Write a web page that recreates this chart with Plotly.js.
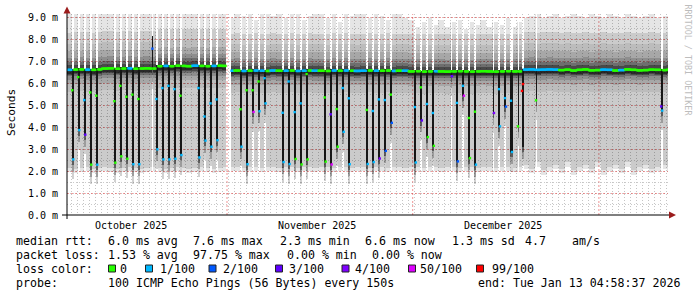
<!DOCTYPE html>
<html><head><meta charset="utf-8">
<script src="https://cdn.plot.ly/plotly-3.0.1.min.js"></script>
<style>html,body{margin:0;padding:0;background:#fff;}#chart{width:697px;height:297px;}</style>
</head><body><div id="chart"></div>
<script>
// ---------------- DATA ----------------
const firstDay = '2025-10-05 00:00:00';
const rangeStart = '2025-10-05 04:58:37';
const rangeEnd = '2026-01-13 04:58:37';

// per-day baseline median RTT (ms), Oct 5 .. Jan 13
const baseMed = [
 6.63,6.64,6.65,6.64,6.63,6.65,
 6.69,6.70,6.68,6.69,6.70,6.68,6.69,6.70,6.69,
 6.80,6.81,6.80,6.82,6.81,6.80,6.82,6.81,6.80,6.81,6.82,6.81,
 6.59,6.60,6.58,6.59,6.60,6.59,6.58,6.60,6.59,6.59,6.60,6.58,6.59,6.60,6.59,6.59,6.58,6.60,6.59,6.60,6.59,6.58,6.59,6.60,6.59,6.59,6.60,6.58,6.59,6.59,
 6.56,6.57,6.55,6.56,6.57,6.56,6.55,6.56,6.57,6.56,6.55,6.56,6.57,6.56,6.55,6.56,6.57,6.56,6.56,
 6.64,6.65,6.63,6.64,6.65,6.64,
 6.62,6.64,6.60,6.63,6.65,6.61,
 6.62,6.64,6.63,6.60,6.62,6.65,6.63,6.61,6.62,6.64,6.63,6.62,6.64
];
// per-day baseline loss class (index into lossLabels)
const baseLoss = [
 1,0,0,1,0,0,0,0,0,0,1,0,0,0,0,0,1,0,0,0,0,1,0,0,1,0,0,
 1,0,1,0,1,1,0,1,0,1,0,1,1,0,1,0,0,1,0,1,0,1,1,0,1,0,0,1,0,1,
 0,0,0,0,1,0,0,0,0,0,0,0,0,0,0,0,0,0,0,
 1,1,1,1,1,1,0,0,0,0,0,0,
 0,1,1,0,1,0,0,0,0,0,0,0,0
];
// per-day upper / lower extent of the smoke (ms)
const smokeTop = [
 9.25,9.25,9.2,9.25,9.25,9.2,9.25,9.25,9.25,9.2,9.25,9.25,9.25,9.2,9.25,9.25,9.25,9.2,9.25,9.25,9.25,9.2,9.25,9.25,9.25,9.2,9.25,
 9.0,9.2,9.1,9.2,8.9,9.2,9.2,9.1,9.2,9.0,9.2,9.2,8.9,9.1,9.2,9.2,9.0,9.2,8.8,9.2,9.1,9.2,9.2,9.0,9.2,9.1,8.9,9.2,9.2,9.0,
 8.9,8.6,8.8,9.0,8.7,8.9,8.6,8.8,8.9,8.5,8.8,8.7,8.9,8.6,8.8,8.7,9.0,8.6,8.8,
 9.0,9.1,9.2,9.0,9.1,9.2,9.0,9.1,9.2,9.1,9.0,9.2,
 9.1,9.0,9.2,9.1,9.0,9.2,9.1,9.0,9.1,9.2,9.0,9.1,9.1
];
const smokeBottom = [
 1.95,1.9,1.95,2.0,1.9,1.95,2.0,1.95,1.9,1.95,2.0,1.95,1.9,1.95,2.0,1.95,1.9,1.95,2.0,1.95,1.9,1.95,2.0,1.95,1.9,1.95,2.0,
 2.0,2.0,1.95,2.0,2.0,1.95,2.0,2.0,1.95,2.0,2.0,1.95,2.0,2.0,1.95,2.0,2.0,1.95,2.0,2.0,1.95,2.0,2.0,1.95,2.0,2.0,1.95,2.0,2.0,1.95,
 2.0,2.0,1.95,2.0,2.0,1.95,2.0,2.0,1.95,2.0,2.0,1.95,2.0,2.0,1.95,2.0,2.0,1.95,2.0,
 2.1,1.9,2.2,1.85,2.0,2.1,1.9,2.2,1.85,2.0,2.1,1.9,
 2.2,1.85,2.0,2.1,1.9,2.2,1.85,2.0,2.1,1.9,2.0,2.1,2.0
];

// individual excursions of the median (dips, spike, loss event)
const evTime = [
 '2025-10-06 05:00','2025-10-07 05:00','2025-10-08 05:00','2025-10-09 05:00','2025-10-10 05:00',
 '2025-10-13 05:00','2025-10-14 05:00','2025-10-15 05:00','2025-10-16 05:00','2025-10-17 05:00',
 '2025-10-19 10:00',
 '2025-10-20 05:00','2025-10-21 05:00','2025-10-22 05:00','2025-10-23 05:00','2025-10-24 05:00',
 '2025-10-27 05:00','2025-10-28 05:00','2025-10-29 05:00','2025-10-30 05:00',
 '2025-11-03 05:00','2025-11-04 05:00','2025-11-05 05:00','2025-11-06 05:00','2025-11-07 05:00',
 '2025-11-10 05:00','2025-11-11 05:00','2025-11-12 05:00','2025-11-13 05:00','2025-11-14 05:00',
 '2025-11-17 05:00','2025-11-18 05:00','2025-11-19 05:00','2025-11-20 05:00','2025-11-21 05:00',
 '2025-11-24 05:00','2025-11-25 05:00','2025-11-26 05:00','2025-11-27 05:00','2025-11-28 05:00',
 '2025-12-02 05:00','2025-12-03 05:00','2025-12-04 05:00','2025-12-05 05:00',
 '2025-12-08 05:00','2025-12-09 05:00','2025-12-10 05:00','2025-12-11 05:00','2025-12-12 05:00',
 '2025-12-15 05:00','2025-12-16 05:00','2025-12-17 05:00','2025-12-18 05:00','2025-12-19 05:00',
 '2025-12-20 02:00','2025-12-22 05:00','2026-01-12 05:00'
];
const evMed = [
 2.54,3.88,3.67,2.30,2.30, 2.39,2.68,2.57,2.32,2.32, 7.60,
 3.00,2.54,2.54,2.57,2.74, 2.63,3.40,3.12,3.42,
 3.12,2.32,4.71,4.74,5.10, 2.42,2.33,2.56,2.31,2.54,
 2.44,2.31,3.12,3.80,2.32, 2.33,2.42,2.58,2.93,4.21,
 2.40,4.32,3.56,3.16, 6.34,2.45,5.45,2.60,2.30,
 4.66,4.05,4.95,2.88,4.05, 5.98,5.24,4.77
];
const evLoss = [
 1,1,3,0,1, 0,0,0,1,1, 2,
 1,1,1,1,1, 1,1,1,1,
 1,1,5,1,1, 1,1,0,0,0,
 0,5,0,1,1, 1,1,4,2,2,
 1,3,0,0, 3,2,5,0,1,
 4,1,2,1,0, 6,0,1
];
const evMid = [
 5.70,6.30,5.25,5.60,5.45, 5.20,5.90,5.40,5.50,5.30, null,
 5.30,5.80,5.90,5.75,5.45, 5.80,4.50,5.10,5.28,
 4.83,5.70,5.70,6.10,6.25, 4.67,6.10,4.70,5.10,6.44,
 5.37,4.60,4.84,5.80,5.33, 4.80,4.75,5.28,5.25,5.50,
 4.93,5.83,5.07,4.66, null,5.12,5.90,4.43,4.72,
 null,5.75,5.34,5.22,null, 5.67,null,4.96
];
const evMidLoss = [
 0,0,1,0,0, 0,0,0,0,0, 0,
 1,1,1,1,0, 1,1,1,1,
 0,0,0,0,1, 1,1,1,1,0,
 0,3,0,1,1, 0,1,1,1,0,
 1,0,1,1, 0,1,1,0,0,
 0,1,1,1,0, 6,0,3
];
// extra extent of the dense smoke for a few events (null = none)
const evFloor = evTime.map(t=> t==='2025-12-20 02:00' ? 3.12 : null);
const evCeil  = evTime.map(t=> t==='2025-10-19 10:00' ? 8.20 : null);

const gapStart = ['2025-10-31 16:00'];
const gapEnd   = ['2025-11-01 12:00'];

const lossLabels = ['0','1/100','2/100','3/100','4/100','50/100','99/100'];
const lossColors = ['#26ff00','#00b8ff','#0059ff','#5e00ff','#7e00ff','#dd00ff','#ff0000'];

const yTickVals = [0,1,2,3,4,5,6,7,8,9];
const yTickText = ['0.0 m','1.0 m','2.0 m','3.0 m','4.0 m','5.0 m','6.0 m','7.0 m','8.0 m','9.0 m'];
const monthLabels = ['October 2025','November 2025','December 2025'];
const monthLabelAt = ['2025-10-15 20:33','2025-11-15 19:18','2025-12-16 18:05'];
const monthGridAt = ['2025-10-31 19:54','2025-12-01 17:28','2026-01-01 16:58'];

const rttRow = ['median rtt:','6.0 ms avg','7.6 ms max','2.3 ms min','6.6 ms now','1.3 ms sd','4.7','am/s'];
const lossRow = ['packet loss:','1.53 % avg','97.75 % max','0.00 % min','0.00 % now'];
const colorRowTitle = 'loss color:';
const probeRow = ['probe:','100 ICMP Echo Pings (56 Bytes) every 150s','end: Tue Jan 13 04:58:37 2026'];
const yTitle = 'Seconds';
const credit = 'RRDTOOL / TOBI OETIKER';

// ---------------- LAYOUT GEOMETRY ----------------
const W=697,H=297, L=67, R=29, T=14, B=82;
const PW=W-L-R, PH=H-T-B, YMAX=(215-T)/21.89;
const px=x=>(x-L)/PW, py=y=>(H-B-y)/PH;

function ms(s){const [d,t='00:00:00']=s.split(' ');const [Y,M,D]=d.split('-').map(Number);const p=t.split(':').map(Number);return Date.UTC(Y,M-1,D,p[0]||0,p[1]||0,p[2]||0);}
const DAY=864e5, STEP=4*3600e3;
const dayMs=ms(firstDay), t0=dayMs+4*3600e3, tEnd=ms(rangeEnd);

// ---------------- BUILD STEPS ----------------
const steps=[];
for(let t=t0;t<tEnd;t+=STEP){const d=Math.floor((t-dayMs)/DAY);steps.push({t,d,med:baseMed[d],loss:baseLoss[d],kind:'n'});}
gapStart.forEach((g,i)=>{const a=ms(g),b=ms(gapEnd[i]);steps.forEach(s=>{if(s.t>=a&&s.t<b)s.kind='g';});});
evTime.forEach((e,i)=>{
  const k=Math.floor((ms(e)-t0)/STEP); const s=steps[k]; if(!s) return;
  const base=baseMed[s.d];
  const lo=Math.min(evMed[i], evFloor[i]!=null?evFloor[i]:evMed[i], base-0.05);
  const hi=Math.max(evMed[i], evCeil[i]!=null?evCeil[i]:evMed[i], base+0.05);
  Object.assign(s,{kind:'e',med:evMed[i],loss:evLoss[i],lo,hi});
  if(evMid[i]!=null&&k>0){Object.assign(steps[k-1],{kind:'e',med:evMid[i],loss:evMidLoss[i],lo,hi});}
});

const xs=steps.map(s=>s.t+STEP/2);
const traces=[];
function layer(kind,fn,alpha){
  const base=[],y=[];
  steps.forEach(s=>{ if(s.kind!==kind){base.push(null);y.push(null);return;}
    const [a,b]=fn(s); base.push(a); y.push(b-a); });
  traces.push({type:'bar',x:xs,y:y,base:base,width:STEP,marker:{color:'rgba(0,0,0,'+alpha+')',line:{width:0}},hoverinfo:'skip',showlegend:false});
}
// normal smoke (nested bands around the median)
layer('n',s=>[smokeBottom[s.d],smokeTop[s.d]],0.10);
layer('n',s=>[smokeBottom[s.d]+0.2,s.med+1.7],0.11);
layer('n',s=>[s.med-1.0,s.med+1.2],0.07);
layer('n',s=>[s.med-0.65,s.med+0.85],0.11);
layer('n',s=>[s.med-0.45,s.med+0.55],0.15);
layer('n',s=>[s.med-0.3,s.med+0.35],0.22);
layer('n',s=>[s.med-0.22,s.med+0.2],0.33);
layer('n',s=>[s.med-0.17,s.med+0.06],0.42);
// excursion smoke
layer('e',s=>[s.lo-0.9,s.hi],0.18);
layer('e',s=>[s.lo-0.55,s.hi],0.25);
layer('e',s=>[s.lo-0.25,s.hi],0.4);
layer('e',s=>[s.lo,s.hi],0.75);
// median
const mk=steps.filter(s=>s.kind!=='g');
traces.push({type:'scatter',mode:'markers',x:mk.map(s=>s.t+STEP/2),y:mk.map(s=>s.med),
  marker:{symbol:'square',size:2.4,color:mk.map(s=>lossColors[s.loss]),line:{width:0}},hoverinfo:'skip',showlegend:false});

// ---------------- ANNOTATIONS / SHAPES ----------------
const mono='DejaVu Sans Mono';
const ann=[];
function txt(text,x,y,size,extra){ann.push(Object.assign({text,xref:'paper',yref:'paper',x:px(x),y:py(y),xanchor:'left',yanchor:'middle',showarrow:false,borderpad:0,borderwidth:0,font:{family:mono,size:size,color:'#000'}},extra||{}));}
const rttX=[16,107.7,193.3,280,365,451.7,525,571.7];
rttRow.forEach((t,i)=>txt(t,rttX[i],241,11.6));
const lossX=[16,107.7,193.3,286.7,371.7];
lossRow.forEach((t,i)=>txt(t,lossX[i],255,11.6));
txt(colorRowTitle,16,268.5,11.6);
const boxX=[108.5,145.5,209,275.5,342,408.5,476.5], boxTX=[120,160,222.7,289,355,420,491.7];
lossLabels.forEach((t,i)=>txt(t,boxTX[i],268.5,11.6));
const probeX=[16,107.7,478.3];
probeRow.forEach((t,i)=>txt(t,probeX[i],283,11.6));
monthLabels.forEach((t,i)=>ann.push({text:t,xref:'x',yref:'paper',x:ms(monthLabelAt[i]),y:py(225),xanchor:'center',yanchor:'middle',showarrow:false,borderpad:0,borderwidth:0,font:{family:mono,size:10,color:'#000'}}));
ann.push({text:yTitle,xref:'paper',yref:'paper',x:px(11),y:py(113),xanchor:'center',yanchor:'middle',textangle:-90,showarrow:false,borderpad:0,borderwidth:0,font:{family:mono,size:11.2,color:'#000'}});
ann.push({text:credit,xref:'paper',yref:'paper',x:px(687.5),y:py(60),xanchor:'center',yanchor:'middle',textangle:90,showarrow:false,borderpad:0,borderwidth:0,font:{family:mono,size:8.4,color:'#bdbdbd'}});

const shapes=[];
monthGridAt.forEach(g=>shapes.push({type:'line',xref:'x',yref:'paper',x0:ms(g),x1:ms(g),y0:0,y1:1,layer:'below',line:{color:'rgba(230,60,60,0.55)',width:1,dash:'2px,2px'}}));
lossColors.forEach((c,i)=>shapes.push({type:'rect',xref:'paper',yref:'paper',x0:px(boxX[i]),x1:px(boxX[i]+7),y0:py(272),y1:py(265),fillcolor:c,line:{color:'#222',width:1},layer:'above'}));
shapes.push({type:'line',xref:'paper',yref:'paper',x0:px(62),x1:px(670),y0:py(215),y1:py(215),line:{color:'#000',width:1},layer:'above'});
shapes.push({type:'line',xref:'paper',yref:'paper',x0:px(67),x1:px(67),y0:py(219),y1:py(12),line:{color:'#000',width:1},layer:'above'});
const P=(x,y)=>px(x)+','+py(y);
shapes.push({type:'path',xref:'paper',yref:'paper',path:'M'+P(63.5,13.5)+' L'+P(67,6.5)+' L'+P(70.5,13.5)+' Z',fillcolor:'#9b1c1c',line:{width:0},layer:'above'});
shapes.push({type:'path',xref:'paper',yref:'paper',path:'M'+P(669,211.5)+' L'+P(676,215)+' L'+P(669,218.5)+' Z',fillcolor:'#9b1c1c',line:{width:0},layer:'above'});

const layout={
  width:W,height:H,margin:{l:L,r:R,t:T,b:B,pad:0},paper_bgcolor:'#fff',plot_bgcolor:'#fff',
  barmode:'overlay',bargap:0,showlegend:false,
  xaxis:{type:'date',range:[ms(rangeStart),ms(rangeEnd)],tickmode:'linear',tick0:ms(firstDay),dtick:DAY,
    showticklabels:false,ticks:'',showgrid:true,gridcolor:'rgba(150,150,150,0.55)',gridwidth:1,griddash:'1px,2px',
    zeroline:false,showline:false,fixedrange:true},
  yaxis:{range:[0,YMAX],tickmode:'array',tickvals:yTickVals,ticktext:yTickText,ticks:'',ticklabelstandoff:8,
    tickfont:{family:mono,size:10,color:'#000'},showgrid:true,gridcolor:'rgba(230,60,60,0.5)',gridwidth:1,griddash:'2px,2px',
    minor:{tickmode:'linear',tick0:0,dtick:0.5,showgrid:true,gridcolor:'rgba(150,150,150,0.5)',griddash:'1px,2px',ticks:''},
    zeroline:false,showline:false,fixedrange:true},
  annotations:ann,shapes:shapes
};
Plotly.newPlot('chart',traces,layout,{staticPlot:true,displayModeBar:false});
</script></body></html>
